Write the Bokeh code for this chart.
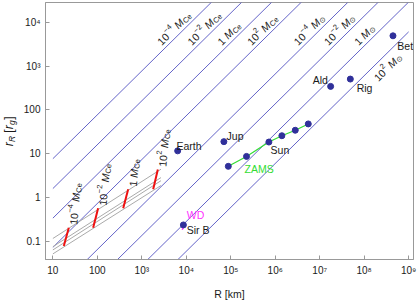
import math
from bokeh.plotting import figure
from bokeh.layouts import row
from bokeh.models import Range1d, FixedTicker, ColumnDataSource
from bokeh.embed import file_html
from bokeh.resources import INLINE
from bokeh.core.properties import value

# ---------------- data ----------------
mass_exp = ["−4", "−2", "", "2", "−4", "−2", "", "2"]
mass_unit = ["Ce", "Ce", "Ce", "Ce", "⊙", "⊙", "⊙", "⊙"]
mass_k = [0.776, 0.162, 0.0343, 0.00741, 6.61e-4, 1.38e-4, 2.88e-5, 6.03e-6]
mass_R_span = [10, 1e9]

obj_names = ["Earth", "Jup", "Sir B", "Ald", "Rig", "Bet"]
obj_R = [6.4e3, 7.0e4, 8.6e3, 1.76e7, 4.88e7, 4.44e8]
obj_r = [11.7, 19.0, 0.24, 345, 506, 4900]

zams_R = [8.8e4, 2.26e5, 7.2e5, 1.41e6, 2.82e6, 5.53e6]
zams_r = [5.2, 8.75, 18.6, 25.9, 34.5, 48.1]
sun_index = 2

wd_R = [8.1e3, 9.3e3]
wd_r = [0.186, 0.26]

grey_R = [10, 2.7e3]
grey_r0 = [0.118, 0.0767, 0.0647, 0.0526]
grey_r1 = [4.47, 2.88, 2.45, 1.9]

red_R0 = [17.6, 80.5, 381, 1803]
red_R1 = [22.8, 104, 494, 2291]
red_r0 = [0.0796, 0.208, 0.575, 1.56]
red_r1 = [0.208, 0.575, 1.56, 4.39]
red_exp = ["−4", "−2", "", "2"]

x_ticks = [10, 100, 1e3, 1e4, 1e5, 1e6, 1e7, 1e8, 1e9]
x_tick_labels = ["10", "100", "10³", "10⁴", "10⁵", "10⁶", "10⁷", "10⁸", "10⁹"]
y_ticks = [0.1, 1, 10, 100, 1e3, 1e4]
y_tick_labels = ["0.1", "1", "10", "100", "10³", "10⁴"]

# ---------------- style ----------------
FONT = "Liberation Sans"
LINE_C = "#6464c8"
DOT_C = "#30309a"
TXT_C = "#1a1a1a"
GREEN = "#33dd33"
MAGENTA = "#ff33ff"
DEC_X = 44.47
DEC_Y = 44.57
SIDE_W = 20
FRAME_TOP, FRAME_BOTTOM = 2, 263

p = figure(width=417 - SIDE_W, height=302, x_axis_type="log", y_axis_type="log",
           x_range=Range1d(10 ** 0.834, 10 ** 9.109),
           y_range=Range1d(10 ** -1.407, 10 ** 4.449),
           output_backend="svg", toolbar_location=None,
           min_border_left=45 - SIDE_W, min_border_right=4,
           min_border_top=FRAME_TOP, min_border_bottom=302 - FRAME_BOTTOM)
p.grid.visible = False
p.outline_line_color = "#999999"
p.background_fill_color = "white"
p.border_fill_color = "white"

for ax, ticks, labels in ((p.xaxis[0], x_ticks, x_tick_labels), (p.yaxis[0], y_ticks, y_tick_labels)):
    ax.ticker = FixedTicker(ticks=ticks, minor_ticks=[])
    ax.major_label_overrides = {t: l for t, l in zip(ticks, labels)}
    ax.major_tick_in = 4
    ax.major_tick_out = 0
    ax.minor_tick_line_color = None
    ax.major_tick_line_color = "#999999"
    ax.axis_line_color = "#999999"
    ax.major_label_text_font = FONT
    ax.major_label_text_font_size = "10px"
    ax.major_label_text_color = TXT_C
    ax.major_label_standoff = 5

p.xaxis.axis_label = "R [km]"
p.xaxis.axis_label_text_font = FONT
p.xaxis.axis_label_text_font_size = "10.5px"
p.xaxis.axis_label_text_font_style = "normal"
p.xaxis.axis_label_text_color = TXT_C
p.xaxis.axis_label_standoff = 9

def off(x, y, dx, dy):
    """shift a data point by screen px (dx right, dy down)"""
    return 10 ** (math.log10(x) + dx / DEC_X), 10 ** (math.log10(y) - dy / DEC_Y)

p.multi_line(xs=[list(mass_R_span) for _ in mass_k],
             ys=[[k * mass_R_span[0], k * mass_R_span[1]] for k in mass_k],
             line_color=LINE_C, line_width=1)
p.multi_line(xs=[list(grey_R) for _ in grey_r0],
             ys=[[a, b] for a, b in zip(grey_r0, grey_r1)],
             line_color="#aaaaaa", line_width=1)
p.segment(x0=red_R0, y0=red_r0, x1=red_R1, y1=red_r1, line_color="#ee1111", line_width=2)
p.line(zams_R, zams_r, line_color=GREEN, line_width=1.2)
p.scatter(zams_R, zams_r, size=6, color=DOT_C)
p.line(wd_R, wd_r, line_color=MAGENTA, line_width=1.5)
p.scatter(obj_R, obj_r, size=6, color=DOT_C)

groups = {}
def add_text(x, y, t, size, style="normal", color=TXT_C, angle=0.0, align="left", baseline="alphabetic"):
    key = (size, style, color, align, baseline)
    d = groups.setdefault(key, dict(x=[], y=[], text=[], angle=[]))
    d["x"].append(x); d["y"].append(y); d["text"].append(t); d["angle"].append(angle)

WID = {'0': .556, '1': .556, '2': .556, '4': .556, ' ': .278, '−': .584, 'M': .833,
       'C': .722, 'e': .556, '⊙': .80, 'r': .333, 'R': .722, '[': .278, ']': .278, 'g': .556}
def width(s, size):
    return sum(WID.get(ch, .6) for ch in s) * size

def rich(x0, y0, theta_deg, pieces):
    th = math.radians(theta_deg)
    lx, ly = math.log10(x0), math.log10(y0)
    d = 0.0
    for text, size, style, shift, gap in pieces:
        d += gap
        ox = d * math.cos(th) - shift * math.sin(th)
        oy = d * math.sin(th) + shift * math.cos(th)
        add_text(10 ** (lx + ox / DEC_X), 10 ** (ly + oy / DEC_Y), text, size, style, TXT_C, th)
        d += width(text, size)

def mass_pieces(exp, unit, big=10.5, small=7.5):
    pcs = []
    if exp == "":
        pcs.append(("1", big, "normal", 0, 0))
    else:
        pcs.append(("10", big, "normal", 0, 0))
        pcs.append((exp, small, "normal", 4.5, 0.3))
    pcs.append(("M", big, "italic", 0, 3.0))
    pcs.append((unit, small, "normal", -2.5, 0.5))
    return pcs

diag_base_y = 3.523
for i, (k, e, u) in enumerate(zip(mass_k, mass_exp, mass_unit)):
    if i < 7:
        ly = diag_base_y
        lx = ly - math.log10(k)
        x0, y0 = off(10 ** lx, 10 ** ly, -11, 0)
    else:
        ly = 2.70
        lx = ly - math.log10(k)
        x0, y0 = off(10 ** lx, 10 ** ly, 15, 0)
    rich(x0, y0, 45, mass_pieces(e, u))

for R1, r1, e in zip(red_R1, red_r1, red_exp):
    x0, y0 = off(R1, r1, 4.5, -3)
    rich(x0, y0, 85, mass_pieces(e, "Ce"))

obj_off = {"Earth": (-1.3, -5.4, "left"), "Jup": (2.7, -6, "left"), "Sir B": (3.4, 5.6, "left"),
           "Ald": (-2.7, -6, "right"), "Rig": (6.3, 8.6, "left"), "Bet": (4.4, 10, "left")}
for n, R, r in zip(obj_names, obj_R, obj_r):
    dx, dy, al = obj_off[n]
    x, y = off(R, r, dx, dy)
    add_text(x, y, n, 10.5, align=al, baseline="middle")
x, y = off(zams_R[sun_index], zams_r[sun_index], 1.7, 8)
add_text(x, y, "Sun", 10.5, baseline="middle")
x, y = off(zams_R[1], zams_r[1], -2, 12.7)
add_text(x, y, "ZAMS", 10.5, color=GREEN, baseline="middle")
x, y = off(obj_R[2], obj_r[2], 3.4, -10.4)
add_text(x, y, "WD", 10.5, color=MAGENTA, baseline="middle")

for (size, style, color, align, baseline), d in groups.items():
    p.text(x="x", y="y", text="text", angle="angle", source=ColumnDataSource(d),
           text_font=value(FONT), text_font_size=value(f"{size}px"),
           text_font_style=value(style), text_color=value(color),
           text_align=value(align), text_baseline=value(baseline))

# ---------------- y axis title (r_R [r_g]) in a narrow side strip ----------------
side = figure(width=SIDE_W, height=302, x_range=Range1d(0, SIDE_W),
              y_range=Range1d(FRAME_BOTTOM, FRAME_TOP),
              output_backend="svg", toolbar_location=None,
              min_border_left=0, min_border_right=0,
              min_border_top=FRAME_TOP, min_border_bottom=302 - FRAME_BOTTOM,
              x_axis_location=None, y_axis_location=None)
side.grid.visible = False
side.outline_line_color = None
side.background_fill_color = "white"
side.border_fill_color = "white"

ylab_pieces = [("r", 12, "italic", 0, 0), ("R", 8.5, "italic", -3, 0.3),
               ("[", 12, "normal", 0, 3.3), ("r", 12, "italic", 0, 0.3),
               ("g", 8.5, "italic", -3, 0.3), ("]", 12, "normal", 0, 0.5)]
sg = {}
bx, by, d = 8.5, 148.0, 0.0
for text, size, style, shift, gap in ylab_pieces:
    d += gap
    key = (size, style)
    g = sg.setdefault(key, dict(x=[], y=[], text=[]))
    g["x"].append(bx - shift); g["y"].append(by - d); g["text"].append(text)
    d += width(text, size)
for (size, style), g in sg.items():
    side.text(x="x", y="y", text="text", source=ColumnDataSource(g), angle=math.pi / 2,
              text_font=value(FONT), text_font_size=value(f"{size}px"),
              text_font_style=value(style), text_color=value(TXT_C),
              text_align=value("left"), text_baseline=value("alphabetic"))

layout = row(side, p, spacing=0)
open("out.html", "w").write(file_html(layout, INLINE))
